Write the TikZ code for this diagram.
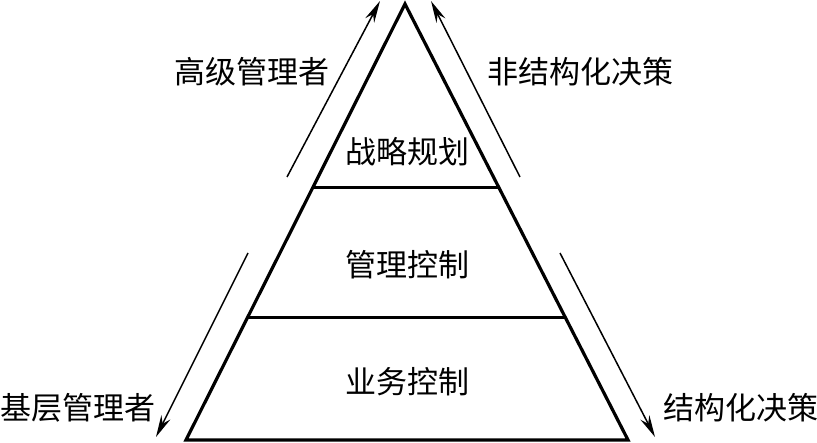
\documentclass[tikz,border=0pt]{standalone}
\usepackage{fontspec}
\setmainfont{Noto Sans CJK SC}
\usepackage{tikz}
\usetikzlibrary{arrows.meta,positioning,calc}

\begin{document}
\begin{tikzpicture}[x=1pt,y=-1pt,font=\fontsize{31}{34}\selectfont,
  flow/.style={line width=1.5pt,-{Stealth[length=22pt,width=10pt]}}]
  \useasboundingbox (0,0) rectangle (817,443);
  % pyramid
  \coordinate (top) at (405,4);
  \coordinate (bl) at (186,440);
  \coordinate (br) at (628,440);
  \draw[line width=3.2pt,line join=miter] (top) -- (bl) -- (br) -- cycle;
  \draw[line width=3pt] ($(top)!0.422!(bl)$) -- ($(top)!0.422!(br)$);
  \draw[line width=3pt] ($(top)!0.72!(bl)$) -- ($(top)!0.72!(br)$);
  % levels
  \node (s) at (407,152) {战略规划};
  \node (m) at (407,265) {管理控制};
  \node (o) at (407,382) {业务控制};
  % arrows
  \coordinate (lu1) at (287,177);
  \coordinate (lu2) at (380,1);
  \coordinate (ru1) at (520,177);
  \coordinate (ru2) at (431,1);
  \coordinate (ld1) at (248,253);
  \coordinate (ld2) at (156,437);
  \coordinate (rd1) at (560,253);
  \coordinate (rd2) at (655,437);
  \draw[flow] (lu1) -- (lu2);
  \draw[flow] (ru1) -- (ru2);
  \draw[flow] (ld1) -- (ld2);
  \draw[flow] (rd1) -- (rd2);
  \node (hi) at (252,72) {高级管理者};
  \node (ns) at (580,72) {非结构化决策};
  \node (lo) at (78,408) {基层管理者};
  \node (st) at (741,408) {结构化决策};
\end{tikzpicture}
\end{document}
